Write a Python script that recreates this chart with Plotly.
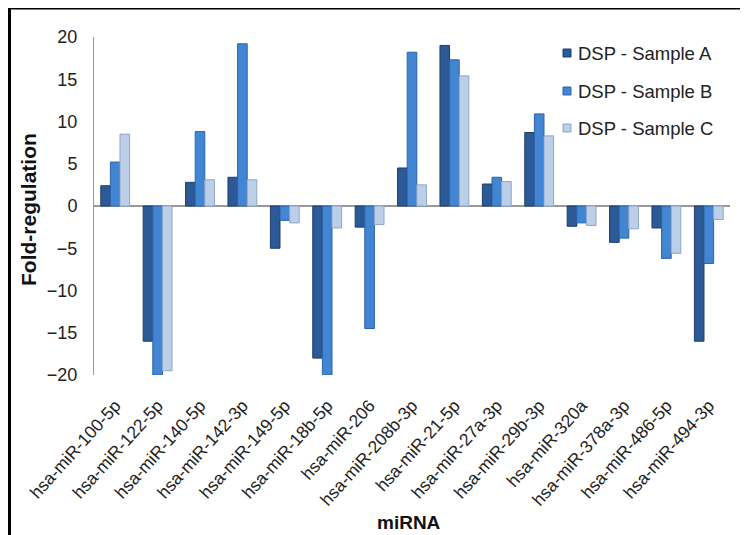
import plotly.graph_objects as go

categories = ["hsa-miR-100-5p", "hsa-miR-122-5p", "hsa-miR-140-5p", "hsa-miR-142-3p",
              "hsa-miR-149-5p", "hsa-miR-18b-5p", "hsa-miR-206", "hsa-miR-208b-3p",
              "hsa-miR-21-5p", "hsa-miR-27a-3p", "hsa-miR-29b-3p", "hsa-miR-320a",
              "hsa-miR-378a-3p", "hsa-miR-486-5p", "hsa-miR-494-3p"]
sample_a = [2.4, -16.0, 2.8, 3.4, -5.0, -18.0, -2.5, 4.5, 19.0, 2.6, 8.7, -2.4, -4.3, -2.6, -16.0]
sample_b = [5.2, -20.0, 8.8, 19.2, -1.7, -20.0, -14.5, 18.2, 17.3, 3.4, 10.9, -2.0, -3.8, -6.2, -6.8]
sample_c = [8.5, -19.5, 3.1, 3.1, -2.0, -2.6, -2.2, 2.5, 15.4, 2.9, 8.3, -2.3, -2.7, -5.6, -1.6]
series_names = ["DSP - Sample A", "DSP - Sample B", "DSP - Sample C"]
y_ticks = [-20, -15, -10, -5, 0, 5, 10, 15, 20]

colors = ["#2b5a97", "#4285d2", "#bccfe8"]
edges = ["#1c3d68", "#2c64aa", "#8ea7c8"]

# page body adds an 8px offset; the figure is sized to fill the remaining window
OFF = 8
W, H = 748 - OFF, 535 - OFF
ML, MR, MT, MB = 94 - OFF, 18, 37 - OFF, 160
pw = W - ML - MR
ph = H - MT - MB


def px(x):
    return (x - OFF - ML) / pw


def py(y):
    return (H - MB - (y - OFF)) / ph


fig = go.Figure()
for name, vals, c, e in zip(series_names, [sample_a, sample_b, sample_c], colors, edges):
    fig.add_trace(go.Bar(x=categories, y=vals, name=name,
                         marker=dict(color=c, line=dict(color=e, width=1)), showlegend=False))

# outer frame (top/left black border)
fig.add_shape(type="line", xref="paper", yref="paper", x0=px(9.5), x1=px(760), y0=py(8), y1=py(8),
              line=dict(color="black", width=3))
fig.add_shape(type="line", xref="paper", yref="paper", x0=px(9.5), x1=px(9.5), y0=py(8), y1=py(560),
              line=dict(color="black", width=3))

# manual legend
leg_y = [53, 91, 128]
for name, c, e, yy in zip(series_names, colors, edges, leg_y):
    fig.add_shape(type="rect", xref="paper", yref="paper", x0=px(563), x1=px(571),
                  y0=py(yy + 4), y1=py(yy - 4), fillcolor=c, line=dict(color=e, width=1))
    fig.add_annotation(xref="paper", yref="paper", x=px(576), y=py(yy), text=name, showarrow=False,
                       xanchor="left", yanchor="middle", font=dict(size=18.5, color="#222222"))

# axis titles
fig.add_annotation(xref="paper", yref="paper", x=px(409), y=py(522), text="<b>miRNA</b>", showarrow=False,
                   xanchor="center", yanchor="middle", font=dict(size=19, color="#111111"))
fig.add_annotation(xref="paper", yref="paper", x=px(28), y=py(210), text="<b>Fold-regulation</b>",
                   showarrow=False, textangle=-90, xanchor="center", yanchor="middle",
                   font=dict(size=21, color="#111111"))

fig.update_layout(
    width=W, height=H,
    margin=dict(l=ML, r=MR, t=MT, b=MB, autoexpand=False),
    paper_bgcolor="white", plot_bgcolor="white",
    barmode="group", bargap=0.32, bargroupgap=0.0,
    font=dict(family="Liberation Sans, Arial, sans-serif", color="#222222"),
    showlegend=False,
)
fig.update_xaxes(tickangle=-48, tickfont=dict(size=17.5, color="#222222"), showgrid=False,
                 showline=False, ticks="", ticklabelstandoff=16, automargin=False)
fig.update_yaxes(range=[-20, 20], tickvals=y_ticks, tickfont=dict(size=18, color="#222222"),
                 showgrid=False, showline=True, linecolor="#999999", linewidth=1,
                 zeroline=True, zerolinecolor="#999999", zerolinewidth=1.5, ticks="",
                 ticklabelstandoff=12, automargin=False)

fig.write_html("out.html")
